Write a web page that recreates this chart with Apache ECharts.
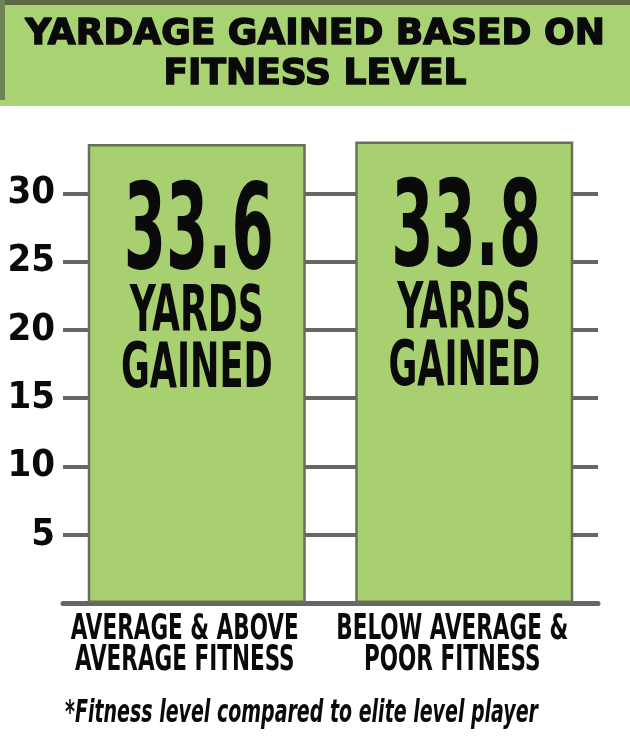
<!DOCTYPE html>
<html><head><meta charset="utf-8">
<script src="https://cdn.jsdelivr.net/npm/echarts@6/dist/echarts.min.js"></script>
<style>html,body{margin:0;padding:0;background:#fff}#c{width:630px;height:743px}</style>
</head><body><div id="c"></div>
<script>
const titleText = 'YARDAGE GAINED BASED ON\nFITNESS LEVEL';
const footnote = '*Fitness level compared to elite level player';
const categories = ['AVERAGE & ABOVE\nAVERAGE FITNESS', 'BELOW AVERAGE &\nPOOR FITNESS'];
const yardsGained = [33.6, 33.8];
const barUnit = ['YARDS', 'GAINED'];
const yTicks = [5, 10, 15, 20, 25, 30];

const COND = '"DejaVu Sans Condensed","DejaVu Sans",sans-serif';
const INK = '#0a0a0a';
const chart = echarts.init(document.getElementById('c'), null, {renderer: 'canvas'});

function txt(text, x, y, size, sx, extra) {
  return Object.assign({
    type: 'text', x: x, y: y, scaleX: sx,
    style: {text: text, fontFamily: COND, fontWeight: 'bold', fontSize: size,
      fill: INK, textAlign: 'center', textVerticalAlign: 'middle'}
  }, extra || {});
}

chart.setOption({
  backgroundColor: '#ffffff',
  animation: false,
  graphic: [
    {type: 'rect', z: -10, shape: {x: 0, y: 0, width: 630, height: 106}, style: {fill: '#a9d273'}},
    {type: 'rect', z: -9, shape: {x: 0, y: 0, width: 630, height: 5}, style: {fill: '#5b6a45'}},
    {type: 'rect', z: -9, shape: {x: 0, y: 0, width: 5, height: 100}, style: {fill: '#6f8255'}},
    {type: 'text', x: 65, y: 714, scaleX: 0.66,
      style: {text: footnote, fontFamily: COND, fontStyle: 'italic', fontWeight: 'bold', fontSize: 32,
        fill: INK, textAlign: 'left', textVerticalAlign: 'middle'}}
  ],
  title: {
    text: titleText, left: 'center', top: 10,
    textStyle: {fontFamily: '"DejaVu Sans",sans-serif', fontWeight: 'bold', fontSize: 36, lineHeight: 40,
      color: INK, textBorderColor: INK, textBorderWidth: 1.5}
  },
  grid: {left: 63, right: 32, top: 125, bottom: 140},
  xAxis: {
    type: 'category', data: categories,
    axisLine: {lineStyle: {color: '#666666', width: 5}},
    axisTick: {show: false},
    axisLabel: {show: false}
  },
  yAxis: {
    type: 'value', min: 0, max: 35, interval: 5,
    axisLine: {show: false}, axisTick: {show: false},
    splitLine: {lineStyle: {color: ['#666666', '#666666', '#666666', '#666666', '#666666', '#666666', '#666666', 'rgba(0,0,0,0)'], width: 4}},
    axisLabel: {
      fontFamily: COND, fontWeight: 'bold', fontSize: 38, color: INK, margin: 8,
      formatter: v => yTicks.indexOf(v) >= 0 ? String(v) : ''
    }
  },
  series: [{
    type: 'bar', data: yardsGained, barWidth: 218,
    itemStyle: {color: '#a8d070', borderColor: '#66705a', borderWidth: 2.5}
  }, {
    type: 'custom', clip: false, z: 5,
    data: yardsGained.map((v, i) => [i, v]),
    encode: {x: 0, y: 1},
    renderItem: function (params, api) {
      const i = api.value(0), v = api.value(1);
      const top = api.coord([i, v]);
      const base = api.coord([i, 0]);
      const cx = top[0];
      const lines = categories[i].split('\n');
      return {
        type: 'group',
        children: [
          txt(v.toFixed(1), cx + 2, top[1] + 93, 119, 0.567),
          txt(barUnit[0], cx, top[1] + 170, 64, 0.627),
          txt(barUnit[1], cx, top[1] + 227, 63, 0.62),
          txt(lines[0], cx - 12, base[1] + 27, 36, 0.665),
          txt(lines[1], cx - 12, base[1] + 58, 36, 0.665)
        ]
      };
    }
  }]
});
</script></body></html>
